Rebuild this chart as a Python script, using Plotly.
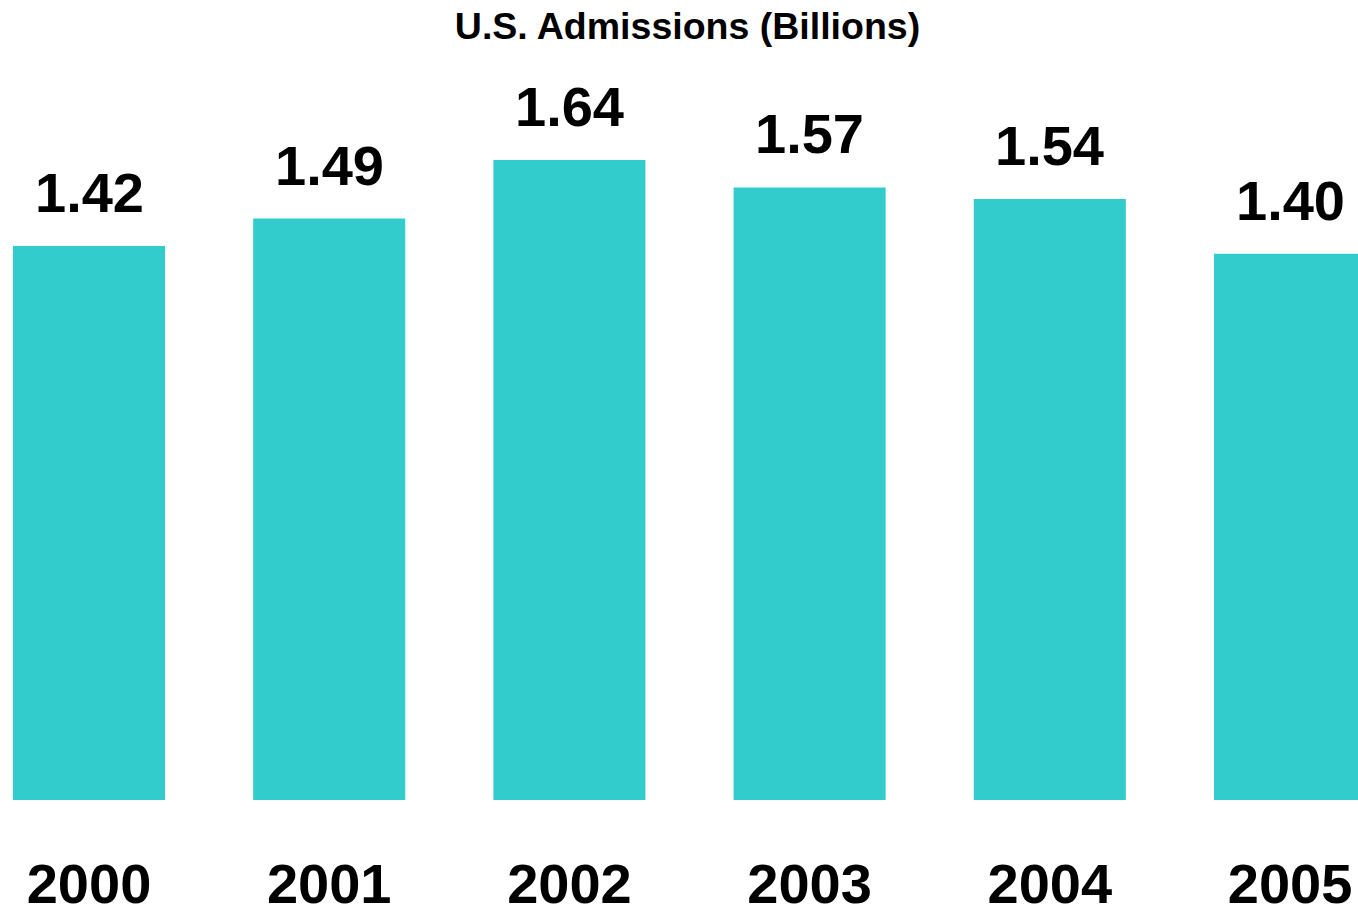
import plotly.graph_objects as go

# U.S. movie admissions by year, in billions
years = ["2000", "2001", "2002", "2003", "2004", "2005"]
admissions = [1.42, 1.49, 1.64, 1.57, 1.54, 1.40]
value_labels = ["1.42", "1.49", "1.64", "1.57", "1.54", "1.40"]

BAR_COLOR = "#33CCCC"
FONT = "Liberation Sans, Arial, sans-serif"

fig = go.Figure(
    go.Bar(
        x=years,
        y=admissions,
        width=0.633,
        marker=dict(color=BAR_COLOR, line=dict(width=0)),
        hoverinfo="skip",
    )
)

# value labels sitting above each bar (x given as category index)
for i, (val, lab) in enumerate(zip(admissions, value_labels)):
    fig.add_annotation(
        x=i, y=val, text=f"<b>{lab}</b>",
        showarrow=False, xanchor="center", yanchor="bottom",
        yshift=20,
        font=dict(family=FONT, size=56, color="#000000"),
    )

fig.update_layout(
    width=1358, height=908,
    margin=dict(l=0, r=0, t=0, b=108, autoexpand=False),
    paper_bgcolor="white", plot_bgcolor="white",
    showlegend=False,
    title=dict(
        text="<b>U.S. Admissions (Billions)</b>",
        x=687.5 / 1358, xanchor="center",
        y=1 - 26 / 908, yanchor="middle",
        font=dict(family=FONT, size=37.5, color="#000000"),
    ),
    xaxis=dict(
        type="category",
        range=[-0.3705, 5.283],
        automargin=False,
        showgrid=False, zeroline=False, showline=False, ticks="",
        tickfont=dict(family=FONT, size=56, color="#000000"),
        tickprefix="<b>", ticksuffix="</b>",
        ticklabelstandoff=46,
    ),
    yaxis=dict(
        range=[0, 800 / 390.2],
        visible=False,
    ),
)

fig.write_html("out.html")
